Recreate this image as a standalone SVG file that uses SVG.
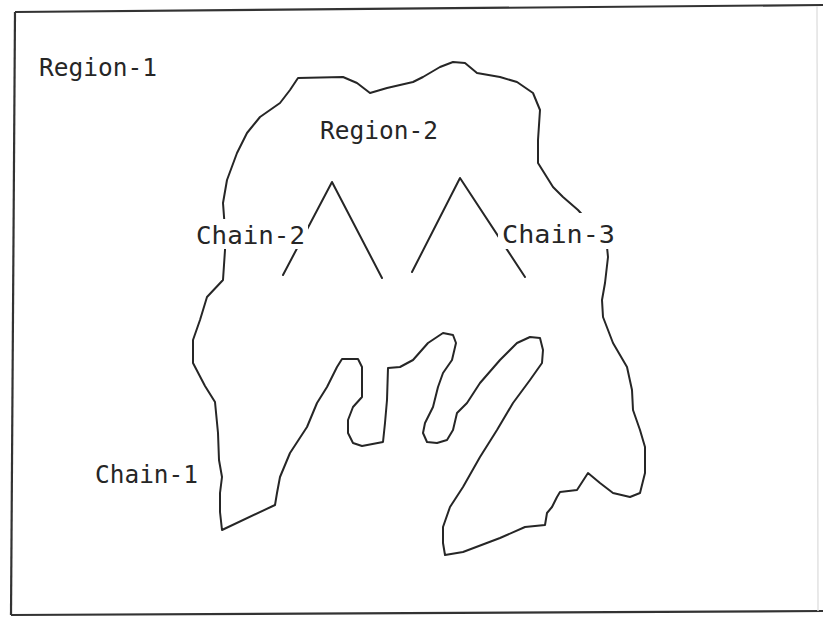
<svg xmlns="http://www.w3.org/2000/svg" width="823" height="617" viewBox="0 0 823 617">
<style>
.ln{fill:none;stroke:#262626;stroke-width:2;stroke-linejoin:round;stroke-linecap:round}
.fr{fill:none;stroke:#333;stroke-width:2.2}
.lb{font-family:"DejaVu Sans Mono","Liberation Mono",monospace;font-size:24px;fill:#262626}
.bg{fill:#fff}
</style>
<rect width="823" height="617" fill="#fff"/>
<g id="frame">
<line class="fr" x1="15" y1="12" x2="823" y2="5"/>
<line class="fr" x1="15" y1="12" x2="11" y2="615"/>
<line class="fr" x1="11" y1="615" x2="823" y2="611"/>
<line x1="817" y1="6" x2="818" y2="611" stroke="#e2e2e2" stroke-width="1.5"/>
</g>
<g id="region-2">
<path class="ln" d="M222,530 L275,505 277,493 280,477 290,453 307,427 317,403 327,387 337,367 342,359 358,359 362,367 362,397 353,407 348,420 348,433 353,443 362,446 383,442 385,423 387,400 388,368 400,367 413,360 428,343 443,333 453,335 456,343 452,360 443,373 438,387 433,407 425,423 423,433 427,442 437,443 447,440 453,430 457,413 467,403 480,383 500,360 517,343 530,337 540,338 543,350 542,363 530,380 513,403 497,430 480,457 463,487 450,507 443,527 443,543 445,555 463,552 500,538 525,527 545,525 547,513 552,507 557,497 560,492 577,490 588,473 600,483 613,493 630,497 640,493 645,473 645,447 640,430 633,410 632,390 627,367 613,343 603,317 602,300 605,283 608,257 607,247 598,232 578,210 563,197 553,187 538,163 538,140 540,110 533,93 517,82 500,77 477,73 465,63 453,62 440,67 423,77 413,82 387,88 370,93 357,83 343,77 298,78 290,90 280,103 260,117 247,133 237,153 227,180 223,203 225,230 225,250 223,280 207,297 200,320 193,340 193,363 205,386 215,402 218,433 219,460 222,477 220,493 220,512 Z"/>
</g>
<g id="chain-2">
<polyline class="ln" points="283,275 332,182 382,278"/>
</g>
<g id="chain-3">
<polyline class="ln" points="412,272 460,178 525,277"/>
</g>
<g id="labels">
<rect class="bg" x="194" y="219" width="114" height="30"/>
<rect class="bg" x="498" y="213" width="120" height="36"/>
<text class="lb" x="39" y="76" textLength="118" lengthAdjust="spacingAndGlyphs">Region-1</text>
<text class="lb" x="320" y="139" textLength="118" lengthAdjust="spacingAndGlyphs">Region-2</text>
<text class="lb" x="196" y="244" textLength="109" lengthAdjust="spacingAndGlyphs">Chain-2</text>
<text class="lb" x="502" y="243" textLength="113" lengthAdjust="spacingAndGlyphs">Chain-3</text>
<text class="lb" x="95" y="483" textLength="103" lengthAdjust="spacingAndGlyphs">Chain-1</text>
</g>
</svg>
